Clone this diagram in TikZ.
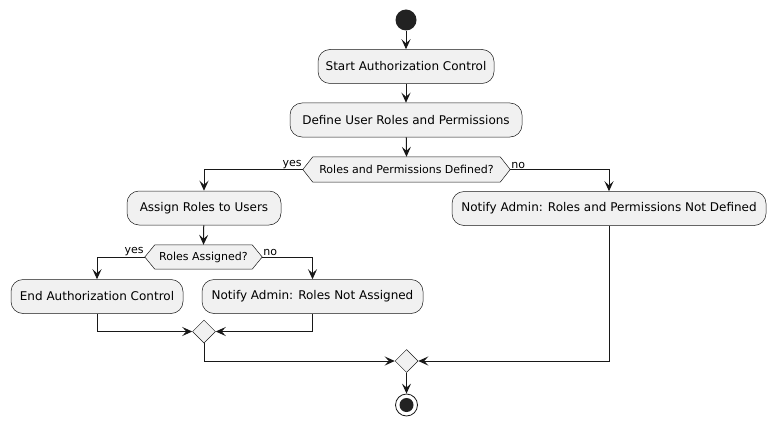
\documentclass[tikz,border=0pt]{standalone}
\usepackage{fontspec}
\setmainfont{DejaVu Sans}
\usetikzlibrary{arrows.meta,shapes.geometric,calc,backgrounds}
\definecolor{pbord}{HTML}{181818}
\definecolor{pfill}{HTML}{F1F1F1}
\definecolor{pdot}{HTML}{222222}
\tikzset{
  act/.style={draw=pbord,line width=0.5pt,fill=pfill,rounded corners=12pt,
    minimum height=34pt,inner sep=0pt,font=\fontsize{12}{14}\selectfont},
  dtext/.style={draw=none,minimum height=25pt,inner sep=0pt,font=\fontsize{11}{13}\selectfont},
  hexa/.style={draw=pbord,line width=0.5pt,fill=pfill},
  merge/.style={diamond,draw=pbord,line width=0.5pt,fill=pfill,minimum width=23pt,minimum height=23pt,inner sep=0pt},
  flow/.style={draw=pbord,line width=1pt,-{Stealth[length=10pt,width=9pt,inset=4pt]}},
  lab/.style={font=\fontsize{11}{13}\selectfont,inner sep=1pt}
}
\begin{document}
\begin{tikzpicture}[x=1pt,y=-1pt]
\useasboundingbox (0,0) rectangle (775,425);
\node[circle,fill=pdot,minimum size=21pt,inner sep=0pt] (start) at (406,20) {};
\node[act,minimum width=176pt] (s1) at (406,66.5) {Start Authorization Control};
\node[act,minimum width=232pt] (s2) at (406,120) {Define User Roles and Permissions};
\node[dtext,minimum width=207pt] (d1) at (406.5,169.5) {Roles and Permissions Defined?};
\node[act,minimum width=154pt] (assign) at (204,208) {Assign Roles to Users};
\node[act,minimum width=314pt] (n1) at (609,208.5) {Notify Admin: Roles and Permissions Not Defined};
\node[dtext,minimum width=117pt,minimum height=24pt] (d2) at (203.5,257) {Roles Assigned?};
\node[act,minimum width=172pt] (endA) at (97,296.5) {End Authorization Control};
\node[act,minimum width=221pt] (n2) at (312.5,296.5) {Notify Admin: Roles Not Assigned};
\node[merge] (m1) at (204,331.5) {};
\node[merge] (m2) at (406.5,361) {};
\node[circle,draw=pbord,line width=0.8pt,fill=white,minimum size=22pt,inner sep=0pt] (stop) at (406.5,405) {};
\fill[pdot] (stop.center) circle (7pt);
\begin{scope}[on background layer]
\draw[hexa] (d1.west) -- ($(d1.north west)+(10,0)$) -- ($(d1.north east)+(-10,0)$) -- (d1.east)
  -- ($(d1.south east)+(-10,0)$) -- ($(d1.south west)+(10,0)$) -- cycle;
\draw[hexa] (d2.west) -- ($(d2.north west)+(10,0)$) -- ($(d2.north east)+(-10,0)$) -- (d2.east)
  -- ($(d2.south east)+(-10,0)$) -- ($(d2.south west)+(10,0)$) -- cycle;
\end{scope}
\draw[flow] (start) -- (s1);
\draw[flow] (s1) -- (s2);
\draw[flow] (s2) -- (d1.north);
\draw[flow] (d1.west) -| (assign.north);
\draw[flow] (d1.east) -| (n1.north);
\node[lab,anchor=south east] (y1) at (d1.west) {yes};
\node[lab,anchor=south west] (no1) at (d1.east) {no};
\draw[flow] (assign) -- (d2.north);
\draw[flow] (d2.west) -| (endA.north);
\draw[flow] (d2.east) -| (n2.north);
\node[lab,anchor=south east] (y2) at (d2.west) {yes};
\node[lab,anchor=south west] (no2) at (d2.east) {no};
\draw[flow] (endA.south) |- (m1.west);
\draw[flow] (n2.south) |- (m1.east);
\draw[flow] (m1.south) |- (m2.west);
\draw[flow] (n1.south) |- (m2.east);
\draw[flow] (m2) -- (stop);
\end{tikzpicture}
\end{document}
